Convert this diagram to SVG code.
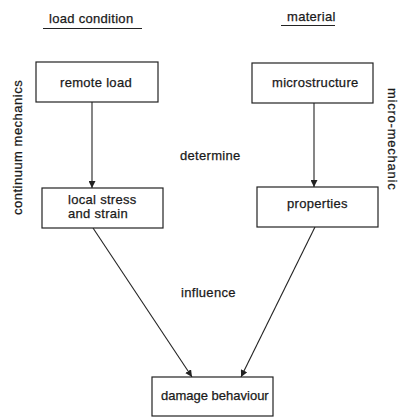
<svg xmlns="http://www.w3.org/2000/svg" width="406" height="419" viewBox="0 0 406 419">
<defs>
<style>
text{font-family:"Liberation Sans",Arial,sans-serif;font-size:13px;fill:#1a1a1a;stroke:#1a1a1a;stroke-width:0.25;letter-spacing:0.3px}
.box{fill:#fff;stroke:#222;stroke-width:1.2}
.line{stroke:#222;stroke-width:1.1;fill:none}
</style>
<marker id="ah" viewBox="0 0 10 10" refX="10" refY="5" markerWidth="7" markerHeight="7" markerUnits="userSpaceOnUse" orient="auto">
<path d="M0,0 L10,5 L0,10 z" fill="#222"/>
</marker>
</defs>
<rect width="406" height="419" fill="#fff"/>
<g id="headers">
<text x="49" y="23">load condition</text>
<line class="line" x1="43" y1="28.5" x2="142" y2="28.5"/>
<text x="287" y="21">material</text>
<line class="line" x1="281" y1="25.5" x2="335" y2="25.5"/>
<text transform="translate(22,215) rotate(-90)" textLength="135" lengthAdjust="spacing">continuum mechanics</text>
<text transform="translate(388,88) rotate(90)" textLength="102" lengthAdjust="spacing">micro-mechanic</text>
<text x="180" y="160">determine</text>
<text x="181" y="297">influence</text>
</g>
<g id="connectors">
<line class="line" x1="92" y1="102" x2="92" y2="188" marker-end="url(#ah)"/>
<line class="line" x1="314" y1="103" x2="314" y2="187" marker-end="url(#ah)"/>
<line class="line" x1="93" y1="228" x2="192" y2="377" marker-end="url(#ah)"/>
<line class="line" x1="315" y1="227" x2="241" y2="377" marker-end="url(#ah)"/>
</g>
<g id="remote-load">
<rect class="box" x="36" y="62" width="122" height="40"/>
<text x="60" y="87">remote load</text>
</g>
<g id="microstructure">
<rect class="box" x="252" y="63" width="121" height="40"/>
<text x="272" y="87">microstructure</text>
</g>
<g id="local-stress">
<rect class="box" x="42" y="188" width="121" height="40"/>
<text x="68" y="204">local stress</text>
<text x="68" y="218">and strain</text>
</g>
<g id="properties">
<rect class="box" x="257" y="187" width="121" height="40"/>
<text x="287" y="208">properties</text>
</g>
<g id="damage">
<rect class="box" x="152" y="377" width="121" height="39"/>
<text x="161" y="400" textLength="108" lengthAdjust="spacing">damage behaviour</text>
</g>
</svg>
